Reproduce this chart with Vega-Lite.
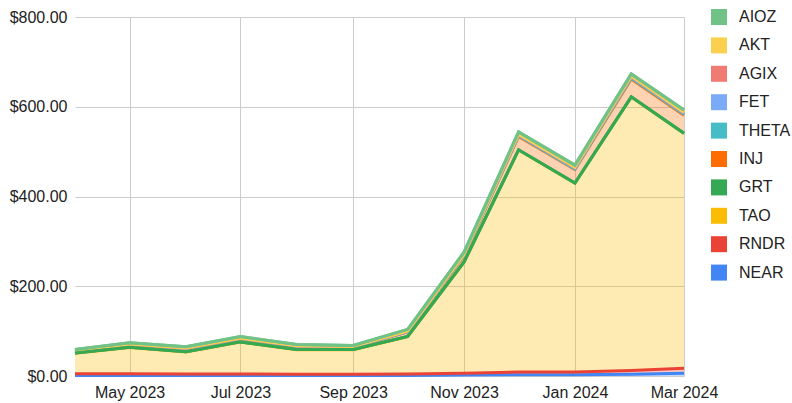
{
  "$schema": "https://vega.github.io/schema/vega-lite/v6.json",
  "width": 609,
  "height": 359,
  "autosize": "none",
  "padding": {"left": 75, "top": 17, "right": 108, "bottom": 27},
  "background": "white",
  "config": {
    "font": "Liberation Sans",
    "view": {"stroke": null},
    "axis": {"labelFont": "Liberation Sans", "labelFontSize": 16, "labelColor": "#222", "domain": false, "ticks": false, "gridColor": "#cccccc", "gridWidth": 1, "title": null}
  },
  "datasets": {
    "wide": [
      {"month": "2023-04-01", "NEAR": 1, "RNDR": 4, "TAO": 45.7, "GRT": 0.3, "INJ": 4, "THETA": 0.5, "FET": 0.5, "AGIX": 0.5, "AKT": 0.2, "AIOZ": 2.3},
      {"month": "2023-05-01", "NEAR": 1, "RNDR": 4, "TAO": 58.7, "GRT": 0.3, "INJ": 5.5, "THETA": 0.5, "FET": 0.5, "AGIX": 0.5, "AKT": 0.2, "AIOZ": 2.8},
      {"month": "2023-06-01", "NEAR": 1, "RNDR": 3.5, "TAO": 49.2, "GRT": 0.3, "INJ": 6.5, "THETA": 0.5, "FET": 0.5, "AGIX": 0.5, "AKT": 0.2, "AIOZ": 2.8},
      {"month": "2023-07-01", "NEAR": 1, "RNDR": 3.5, "TAO": 71.2, "GRT": 0.3, "INJ": 7, "THETA": 0.5, "FET": 0.5, "AGIX": 0.5, "AKT": 0.2, "AIOZ": 3.3},
      {"month": "2023-08-01", "NEAR": 1, "RNDR": 3, "TAO": 54.7, "GRT": 0.3, "INJ": 6.5, "THETA": 0.5, "FET": 0.5, "AGIX": 0.5, "AKT": 0.2, "AIOZ": 2.8},
      {"month": "2023-09-01", "NEAR": 1, "RNDR": 3, "TAO": 54.7, "GRT": 0.3, "INJ": 5, "THETA": 0.5, "FET": 0.5, "AGIX": 0.5, "AKT": 0.2, "AIOZ": 2.3},
      {"month": "2023-10-01", "NEAR": 1, "RNDR": 3.5, "TAO": 83.2, "GRT": 0.3, "INJ": 10, "THETA": 0.75, "FET": 0.75, "AGIX": 0.75, "AKT": 0.3, "AIOZ": 3.45},
      {"month": "2023-11-01", "NEAR": 2, "RNDR": 4, "TAO": 247.6, "GRT": 0.4, "INJ": 14, "THETA": 1, "FET": 1, "AGIX": 1, "AKT": 0.4, "AIOZ": 4.6},
      {"month": "2023-12-01", "NEAR": 3, "RNDR": 6, "TAO": 494.5, "GRT": 0.5, "INJ": 30, "THETA": 1.5, "FET": 1.5, "AGIX": 1.5, "AKT": 0.5, "AIOZ": 5},
      {"month": "2024-01-01", "NEAR": 3, "RNDR": 6, "TAO": 420.5, "GRT": 0.5, "INJ": 30, "THETA": 1.5, "FET": 1.5, "AGIX": 1.5, "AKT": 0.5, "AIOZ": 5},
      {"month": "2024-02-01", "NEAR": 4, "RNDR": 8, "TAO": 609.5, "GRT": 0.5, "INJ": 40, "THETA": 2, "FET": 2, "AGIX": 2, "AKT": 0.6, "AIOZ": 4.4},
      {"month": "2024-03-01", "NEAR": 6, "RNDR": 11, "TAO": 523.5, "GRT": 0.5, "INJ": 40, "THETA": 2, "FET": 2, "AGIX": 2, "AKT": 0.6, "AIOZ": 5.4}
    ],
    "ranks": [
      {"coin": "NEAR", "rank": 0}, {"coin": "RNDR", "rank": 1}, {"coin": "TAO", "rank": 2}, {"coin": "GRT", "rank": 3}, {"coin": "INJ", "rank": 4},
      {"coin": "THETA", "rank": 5}, {"coin": "FET", "rank": 6}, {"coin": "AGIX", "rank": 7}, {"coin": "AKT", "rank": 8}, {"coin": "AIOZ", "rank": 9}
    ]
  },
  "data": {"name": "wide"},
  "transform": [
    {"fold": ["NEAR", "RNDR", "TAO", "GRT", "INJ", "THETA", "FET", "AGIX", "AKT", "AIOZ"], "as": ["coin", "value"]},
    {"lookup": "coin", "from": {"data": {"name": "ranks"}, "key": "coin", "fields": ["rank"]}},
    {"stack": "value", "groupby": ["month"], "sort": [{"field": "rank", "order": "ascending"}], "as": ["y0", "y1"]}
  ],
  "encoding": {
    "x": {
      "field": "month", "type": "temporal",
      "scale": {"type": "utc", "domain": [{"year": 2023, "month": 4, "date": 1, "utc": true}, {"year": 2024, "month": 3, "date": 1, "utc": true}]},
      "axis": {
        "format": "%b %Y", "labelPadding": 8, "grid": true, "labelFlush": false, "labelOverlap": false,
        "values": [
          {"year": 2023, "month": 5, "date": 1, "utc": true},
          {"year": 2023, "month": 7, "date": 1, "utc": true},
          {"year": 2023, "month": 9, "date": 1, "utc": true},
          {"year": 2023, "month": 11, "date": 1, "utc": true},
          {"year": 2024, "month": 1, "date": 1, "utc": true},
          {"year": 2024, "month": 3, "date": 1, "utc": true}
        ]
      }
    },
    "y": {
      "field": "y1", "type": "quantitative",
      "scale": {"domain": [0, 800], "nice": false},
      "axis": {"values": [0, 200, 400, 600, 800], "format": "$,.2f", "labelPadding": 8, "grid": true}
    },
    "color": {
      "field": "coin", "type": "nominal",
      "scale": {
        "domain": ["AIOZ", "AKT", "AGIX", "FET", "THETA", "INJ", "GRT", "TAO", "RNDR", "NEAR"],
        "range": ["#71C287", "#FCD04F", "#F07B72", "#7BAAF7", "#46BDC6", "#FF6D01", "#34A853", "#FBBC04", "#EA4335", "#4285F4"]
      },
      "legend": {
        "title": null, "orient": "none", "legendX": 636, "legendY": -8, "padding": 0,
        "symbolType": "square", "symbolSize": 256, "symbolStrokeWidth": 0, "symbolOpacity": 1,
        "labelFont": "Liberation Sans", "labelFontSize": 16, "labelColor": "#222", "labelOffset": 12, "rowPadding": 12.4, "labelLimit": 200
      }
    }
  },
  "layer": [
    {"mark": {"type": "area", "opacity": 0.3}, "encoding": {"y2": {"field": "y0"}}},
    {"mark": {"type": "line", "strokeWidth": 3}},
    {"transform": [{"filter": "datum.coin === 'GRT'"}], "mark": {"type": "line", "strokeWidth": 3}},
    {"transform": [{"filter": "datum.coin === 'AIOZ'"}], "mark": {"type": "line", "strokeWidth": 3}}
  ]
}
